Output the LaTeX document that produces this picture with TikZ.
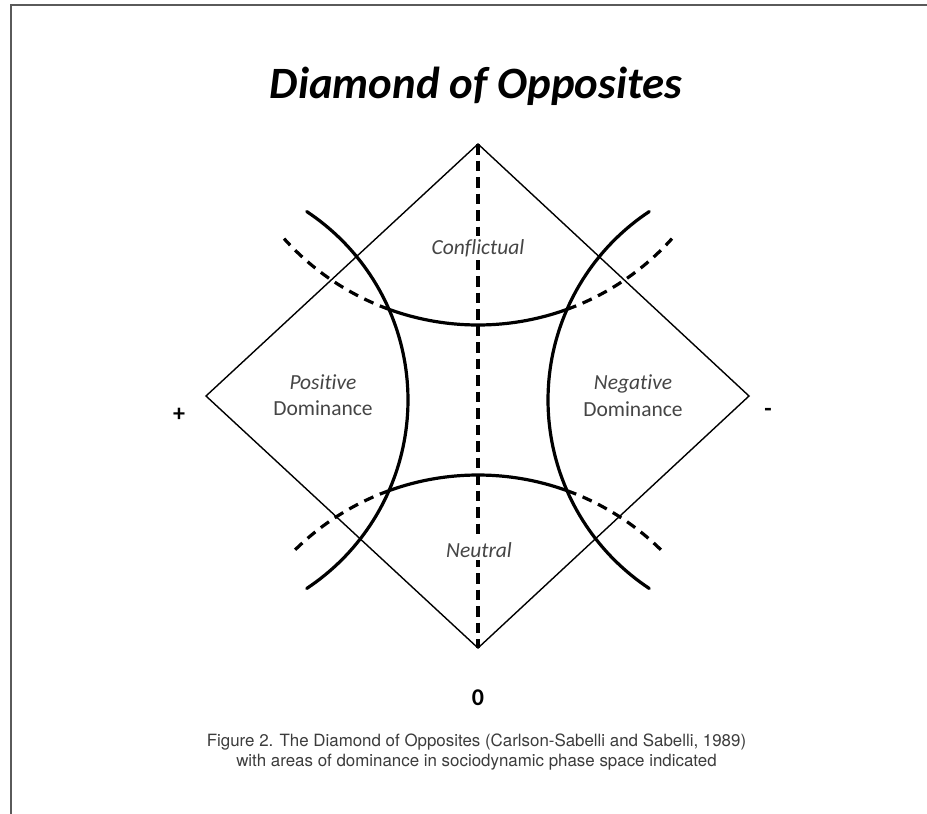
\documentclass[tikz,border=0pt]{standalone}
\usepackage{fontspec}
\setmainfont{Carlito}[Ligatures=NoCommon]
\newfontfamily\capfont{TeX Gyre Heros}
\definecolor{labelgray}{HTML}{454545}
\definecolor{capgray}{HTML}{3C3C3C}
\definecolor{framegray}{HTML}{5A5A5A}
\tikzset{
  framebox/.style={draw=framegray, line width=2pt},
  diamondline/.style={draw=black, line width=1.4pt, line join=miter},
  axisdash/.style={draw=black, line width=3.2pt, dash pattern=on 10.5pt off 6pt},
  curve/.style={draw=black, line width=3.2pt, line cap=round},
  curvedash/.style={draw=black, line width=3.2pt, dash pattern=on 10pt off 7pt},
  lbl/.style={text=labelgray, font=\fontsize{21.5}{24}\selectfont, inner sep=0pt, anchor=base},
  clearlbl/.style={lbl, fill=white, inner sep=3pt},
  signlbl/.style={text=black, font=\fontsize{24}{28}\selectfont\bfseries, inner sep=0pt},
  caplbl/.style={text=capgray, font=\capfont\fontsize{16.9}{20}\selectfont, inner sep=0pt, anchor=base},
}
\begin{document}
\begin{tikzpicture}[x=1pt,y=-1pt]
\useasboundingbox (0,0) rectangle (927,814);
\clip (0,0) rectangle (927,814);
\fill[white] (0,0) rectangle (927,814);
\draw[framebox] (11,5) rectangle (945,835);

% title
\node[inner sep=0pt, anchor=base, font=\fontsize{44.8}{50}\selectfont\bfseries\itshape] (title) at (476,98) {Diamond of Opposites};

% diamond
\coordinate (T) at (478,144);
\coordinate (R) at (749,396);
\coordinate (B) at (478,648);
\coordinate (L) at (206,396);
\draw[diamondline] (T) -- (R) -- (B) -- (L) -- cycle;
\draw[axisdash] (T) -- (B);

% left and right arcs
\draw[curve] plot[domain=-56.5:56.5, samples=80] ({182+226*cos(\x)},{400+226*sin(\x)});
\draw[curve] plot[domain=123.5:236.5, samples=80] ({774+226*cos(\x)},{400+226*sin(\x)});
% top arc
\draw[curve] plot[domain=70.1:109.9, samples=60] ({478+261*cos(\x)},{64+261*sin(\x)});
\draw[curvedash] plot[domain=109.9:138, samples=40] ({478+261*cos(\x)},{64+261*sin(\x)});
\draw[curvedash] plot[domain=70.1:42, samples=40] ({478+261*cos(\x)},{64+261*sin(\x)});
% bottom arc
\draw[curve] plot[domain=-109.9:-70.1, samples=60] ({478+261*cos(\x)},{736+261*sin(\x)});
\draw[curvedash] plot[domain=-109.9:-135.5, samples=40] ({478+261*cos(\x)},{736+261*sin(\x)});
\draw[curvedash] plot[domain=-70.1:-44.5, samples=40] ({478+261*cos(\x)},{736+261*sin(\x)});

% labels
\node[clearlbl] (conf) at (478,254) {\itshape Conflictual};
\node[lbl] (pos) at (323,389) {\itshape Positive};
\node[lbl] (posd) at (323,415) {Dominance};
\node[lbl] (neg) at (633,389) {\itshape Negative};
\node[lbl] (negd) at (633,416) {Dominance};
\node[clearlbl] (neut) at (479,557) {\itshape Neutral};

\node[signlbl] (plus) at (179,415) {+};
\node[signlbl] (minus) at (768,412) {-};
\node[signlbl] (zero) at (478,698) {0};

% caption
\node[caplbl] (cap1) at (476.5,746) {Figure 2. The Diamond of Opposites (Carlson-Sabelli and Sabelli, 1989)};
\node[caplbl] (cap2) at (476.5,766) {with areas of dominance in sociodynamic phase space indicated};
\end{tikzpicture}
\end{document}
